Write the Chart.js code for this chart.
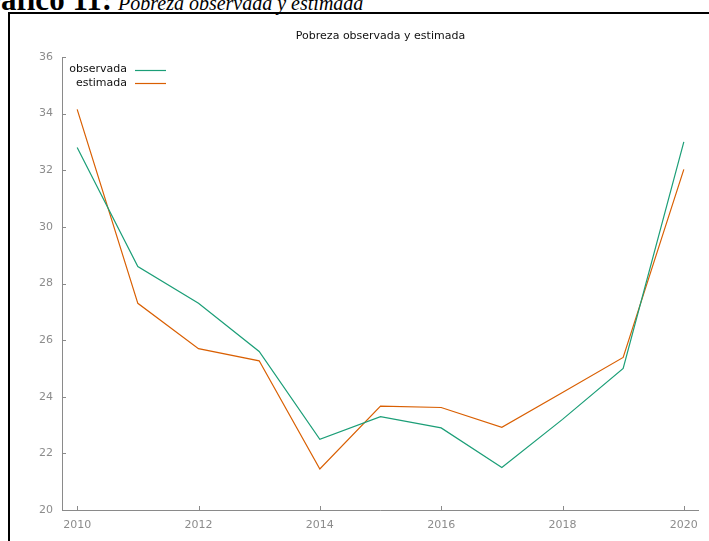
<!DOCTYPE html>
<html>
<head>
<meta charset="utf-8">
<script src="https://cdn.jsdelivr.net/npm/chart.js@4"></script>
<style>
  html, body { margin: 0; padding: 0; background: #fff; width: 709px; height: 541px; overflow: hidden; }
  #frame { position: absolute; left: 8px; top: 12px; width: 800px; height: 600px; border: 2px solid #000; box-sizing: border-box; }
  #hdrA { position: absolute; right: 597px; top: -16.5px; font: bold 31px "Liberation Serif", serif; line-height: 31px; white-space: nowrap; color: #000; }
  #hdrB { position: absolute; left: 118px; top: -7.5px; font: italic 20px "Liberation Serif", serif; line-height: 20px; white-space: nowrap; color: #000; }
  canvas { position: absolute; left: 0; top: 0; }
</style>
</head>
<body>
<div id="frame"></div>
<div id="hdrA">Gráfico 11:</div>
<div id="hdrB">Pobreza observada y estimada</div>
<canvas id="c" width="709" height="541"></canvas>
<script>
const chartTitle = "Pobreza observada y estimada";
const years = [2010, 2011, 2012, 2013, 2014, 2015, 2016, 2017, 2018, 2019, 2020];
const observada = [32.8, 28.6, 27.3, 25.6, 22.5, 23.3, 22.9, 21.5, 23.2, 25.0, 33.0];
const estimada  = [34.15, 27.3, 25.7, 25.27, 21.45, 23.67, 23.62, 22.92, 24.15, 25.39, 32.03];
const xTicks = [2010, 2012, 2014, 2016, 2018, 2020];
const yTicks = [20, 22, 24, 26, 28, 30, 32, 34, 36];

const FONT = '"DejaVu Sans", Verdana, sans-serif';
const AXIS = '#8a8a8a';

const gnuplotStyle = {
  id: 'gnuplotStyle',
  afterDraw(chart) {
    const ctx = chart.ctx;
    const a = chart.chartArea;
    const xs = chart.scales.x, ys = chart.scales.y;
    ctx.save();
    ctx.strokeStyle = AXIS;
    ctx.lineWidth = 1;
    ctx.beginPath();
    ctx.moveTo(a.left + 0.5, a.top);
    ctx.lineTo(a.left + 0.5, a.bottom + 0.5);
    ctx.lineTo(a.right, a.bottom + 0.5);
    yTicks.forEach(v => {
      const y = Math.round(ys.getPixelForValue(v)) + 0.5;
      ctx.moveTo(a.left, y); ctx.lineTo(a.left + 4, y);
    });
    xTicks.forEach(v => {
      const x = Math.round(xs.getPixelForValue(v)) + 0.5;
      ctx.moveTo(x, a.bottom); ctx.lineTo(x, a.bottom - 4);
    });
    ctx.stroke();
    // title
    ctx.fillStyle = '#111';
    ctx.font = '11px ' + FONT;
    ctx.textAlign = 'center';
    ctx.textBaseline = 'middle';
    ctx.fillText(chartTitle, (a.left + a.right) / 2, 36);
    // legend
    ctx.textAlign = 'right';
    chart.data.datasets.forEach((ds, i) => {
      const y = 69.5 + i * 13.5;
      ctx.fillStyle = '#111';
      ctx.fillText(ds.label, 127, y);
      ctx.strokeStyle = ds.borderColor;
      ctx.lineWidth = 1.2;
      ctx.beginPath();
      ctx.moveTo(135, Math.round(y) + 0.5);
      ctx.lineTo(166, Math.round(y) + 0.5);
      ctx.stroke();
    });
    ctx.restore();
  }
};

new Chart(document.getElementById('c'), {
  type: 'line',
  data: {
    datasets: [
      { label: 'observada', data: years.map((y, i) => ({ x: y, y: observada[i] })), borderColor: '#1b9e77', borderWidth: 1.2, pointRadius: 0, tension: 0, fill: false },
      { label: 'estimada', data: years.map((y, i) => ({ x: y, y: estimada[i] })), borderColor: '#d95f02', borderWidth: 1.2, pointRadius: 0, tension: 0, fill: false }
    ]
  },
  options: {
    responsive: false,
    devicePixelRatio: 1,
    animation: false,
    layout: { padding: { top: 57, right: 10, left: 0, bottom: 0 } },
    plugins: { legend: { display: false }, title: { display: false }, tooltip: { enabled: false } },
    scales: {
      x: {
        type: 'linear', min: 2009.75, max: 2020.25,
        afterBuildTicks(s) { s.ticks = xTicks.map(v => ({ value: v })); },
        afterFit(s) { s.height = 31; },
        grid: { display: false, drawTicks: false },
        border: { display: false },
        ticks: { color: '#8c8c8c', font: { family: FONT, size: 11 }, padding: 9, maxRotation: 0, autoSkip: false, callback: v => String(v) }
      },
      y: {
        type: 'linear', min: 20, max: 36,
        afterBuildTicks(s) { s.ticks = yTicks.map(v => ({ value: v })); },
        afterFit(s) { s.width = 62; },
        grid: { display: false, drawTicks: false },
        border: { display: false },
        ticks: { color: '#8c8c8c', font: { family: FONT, size: 11 }, padding: 9, autoSkip: false, callback: v => String(v) }
      }
    }
  },
  plugins: [gnuplotStyle]
});
</script>
</body>
</html>
